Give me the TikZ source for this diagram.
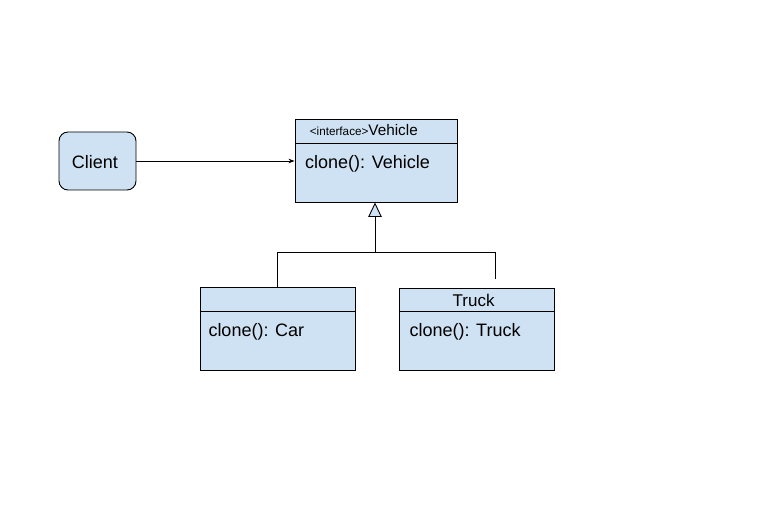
\documentclass[tikz,border=0pt]{standalone}
\usepackage{fontspec}
\setmainfont{Liberation Sans}
\usetikzlibrary{arrows.meta,calc}
\definecolor{boxblue}{HTML}{CFE2F3}
\tikzset{
  umlbox/.style={draw=black, fill=boxblue, line width=0.9pt, inner sep=0pt, minimum width=#1},
  txt/.style={inner sep=0pt, font=\fontsize{18}{20}\selectfont},
  conn/.style={line width=0.9pt, draw=black},
}
\begin{document}
\begin{tikzpicture}[x=1pt,y=-1pt]
\useasboundingbox (0,0) rectangle (765,521);
% boxes
\node[umlbox=77pt, minimum height=58pt, rounded corners=9pt] (client) at (97.5,161) {};
\node[umlbox=162pt, minimum height=83pt] (veh) at (376,160.5) {};
\node[umlbox=155pt, minimum height=83pt] (car) at (277.5,328.5) {};
\node[umlbox=155pt, minimum height=82pt] (truck) at (476.5,329) {};
% dividers
\draw[conn] ($(veh.north west)+(0,25)$) -- ($(veh.north east)+(0,25)$);
\draw[conn] ($(car.north west)+(0,25)$) -- ($(car.north east)+(0,25)$);
\draw[conn] ($(truck.north west)+(0,24)$) -- ($(truck.north east)+(0,24)$);
% texts
\node[txt, anchor=base] (clienttxt) at (95,169) {Client};
\node[inner sep=0pt, anchor=base west] (vehhead) at (309.7,135.7)
  {{\fontsize{11.7}{13}\selectfont <interface>}{\fontsize{15.3}{17}\selectfont Vehicle}};
\node[txt, anchor=base west] (vehop) at (305,169) {clone(): Vehicle};
\node[txt, anchor=base west] (carop) at (208.3,336) {clone(): Car};
\node[inner sep=0pt, anchor=base, font=\fontsize{17}{19}\selectfont] (truckhead) at (473.6,306) {Truck};
\node[txt, anchor=base west] (truckop) at (409.3,336) {clone(): Truck};
% connectors
\draw[line width=0.8pt, -{Stealth[length=6pt,width=4.5pt]}] (client.east) -- (veh.west |- client.east);
\coordinate (junc) at (375,252);
\coordinate (tend) at (495,279);
\draw[conn] (car.north) |- (junc);
\draw[conn] (tend) |- (junc);
\draw[conn, -{Triangle[open, fill=boxblue, length=14.5pt, width=13.5pt, line width=0.9pt]}] (junc) -- (junc |- veh.south);
\end{tikzpicture}
\end{document}
